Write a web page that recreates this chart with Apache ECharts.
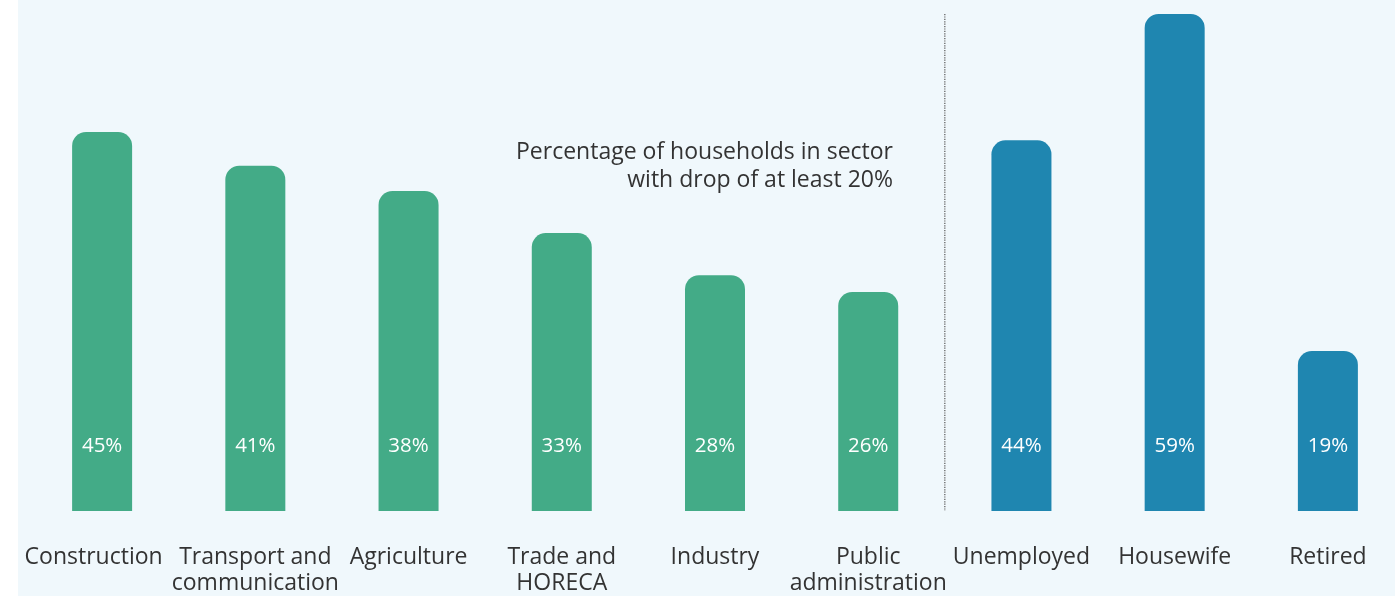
<!DOCTYPE html>
<html>
<head>
<meta charset="utf-8">
<script src="https://cdn.jsdelivr.net/npm/echarts@6/dist/echarts.min.js"></script>
<style>
html,body{margin:0;padding:0;background:#ffffff;overflow:hidden;width:1395px;height:596px;}
#bg{position:absolute;left:18px;top:0;width:1377px;height:596px;background:#f0f8fc;}
#chart{position:absolute;left:0;top:0;width:1420px;height:596px;}
</style>
</head>
<body>
<div id="bg"></div>
<div id="chart"></div>
<script>
const categories = ['Construction', 'Transport and\ncommunication', 'Agriculture', 'Trade and\nHORECA', 'Industry', 'Public\nadministration', 'Unemployed', 'Housewife', 'Retired'];
const values = [45, 41, 38, 33, 28, 26, 44, 59, 19];
const groups = ['sector', 'sector', 'sector', 'sector', 'sector', 'sector', 'other', 'other', 'other'];
const titleLines = ['Percentage of households in sector', 'with drop of at least 20%'];

const GREEN = '#43ab87';
const BLUE = '#1f86b0';

// divider between the two groups, in data space (between last 'sector' and first 'other')
const splitIndex = groups.indexOf('other') - 0.5;
const dividerTop = Math.max(...values);

const chart = echarts.init(document.getElementById('chart'), null, {renderer: 'canvas'});
chart.setOption({
  backgroundColor: 'transparent',
  animation: false,
  textStyle: {fontFamily: 'Open Sans'},
  title: {
    text: titleLines.join('\n'),
    left: 893,
    top: 138,
    padding: 0,
    textAlign: 'right',
    textStyle: {fontFamily: 'Open Sans', fontSize: 23, fontWeight: 'normal', color: '#333333', lineHeight: 28}
  },
  grid: {left: 25.5, top: 5.6, width: 1379, bottom: 84, containLabel: false},
  xAxis: [{
    type: 'category',
    data: categories.map((c, i) => i === 0 ? {value: c, textStyle: {padding: [0, 17, 0, 0]}} : c),
    boundaryGap: true,
    axisLine: {show: false},
    axisTick: {show: false},
    splitLine: {show: false},
    axisLabel: {
      interval: 0, margin: 33, fontFamily: 'Open Sans', fontSize: 23, color: '#333333', lineHeight: 26
    }
  }, {
    type: 'value', min: -0.5, max: categories.length - 0.5, show: false
  }],
  yAxis: {
    type: 'value', min: 0, max: 60, show: false
  },
  series: [{
    type: 'bar',
    barWidth: 60,
    data: values.map((v, i) => ({
      value: v,
      itemStyle: {color: groups[i] === 'sector' ? GREEN : BLUE, borderRadius: [14, 14, 0, 0]}
    })),
    label: {
      show: true, position: 'insideBottom', distance: 54, formatter: '{c}%',
      fontFamily: 'Open Sans', fontSize: 20.5, color: '#ffffff'
    }
  }, {
    type: 'line',
    xAxisIndex: 1,
    silent: true,
    showSymbol: false,
    symbol: 'none',
    lineStyle: {type: 'dotted', color: '#555555', width: 1.2},
    data: [[splitIndex, dividerTop], [splitIndex, 0]]
  }]
});
</script>
</body>
</html>
